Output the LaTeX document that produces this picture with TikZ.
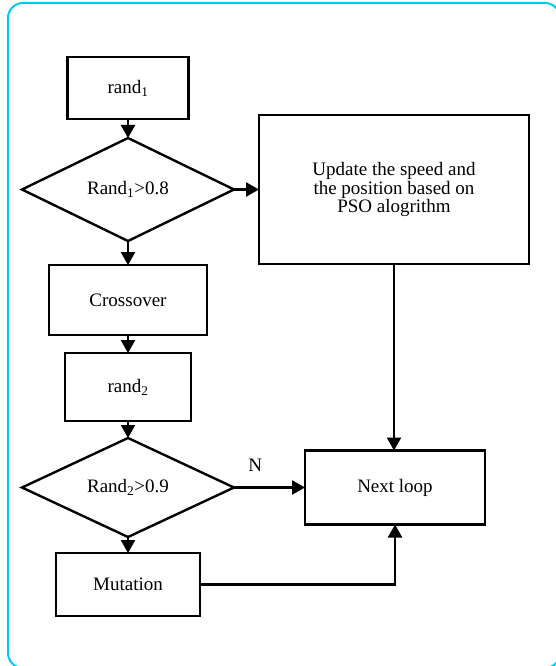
\documentclass[tikz,border=0pt]{standalone}
\usepackage{fontspec}
\setmainfont{Liberation Serif}
\usetikzlibrary{arrows.meta,positioning,shapes.geometric}
\definecolor{framecyan}{HTML}{00C8F5}

\begin{document}
\begin{tikzpicture}[
    x=1pt, y=-1pt,
    font=\fontsize{19}{17}\selectfont,
    line width=2.4pt,
    block/.style={draw, rectangle, inner sep=0pt, outer sep=0pt, align=center},
    test/.style={draw, diamond, aspect=2, inner sep=0pt, outer sep=0pt, minimum width=212pt},
    flow/.style={-{Triangle[length=13pt,width=14pt]}},
  ]

\useasboundingbox (0,0) rectangle (556,666);
\draw[framecyan, line width=2pt, rounded corners=15pt] (8,3) rectangle (560,668);

% left column
\node[block, minimum width=121pt, minimum height=62pt] (r1) at (128,88) {rand\textsubscript{1}};
\node[test, minimum height=103pt, below=19pt of r1] (d1) {Rand\textsubscript{1}>0.8};
\node[block, minimum width=158pt, minimum height=70pt, below=24pt of d1] (cross) {Crossover};
\node[block, minimum width=126pt, minimum height=68pt, below=18pt of cross] (r2) {rand\textsubscript{2}};
\node[test, minimum height=99pt, below=17pt of r2] (d2) {Rand\textsubscript{2}>0.9};
\node[block, minimum width=144pt, minimum height=63pt, below=16pt of d2] (mut) {Mutation};

% right column
\node[block, minimum width=270pt, minimum height=149pt, right=25pt of d1] (pso) {Update the speed and\\the position based on\\PSO alogrithm};
\node[block, minimum width=180pt, minimum height=74pt, right=71pt of d2] (next) {Next loop};

\draw[flow] (r1) -- (d1);
\draw[flow] (d1) -- (cross);
\draw[flow] (cross) -- (r2);
\draw[flow] (r2) -- (d2);
\draw[flow] (d2) -- (mut);
\draw[flow] (d1.east) -- (pso.west);
\draw[flow] (pso.south) -- (pso.south |- next.north);
\draw[flow] (d2.east) -- node[above=11pt, pos=0.3] (nlab) {N} (next.west);
\draw[flow] (mut.east) -| (next.south);

\end{tikzpicture}
\end{document}
